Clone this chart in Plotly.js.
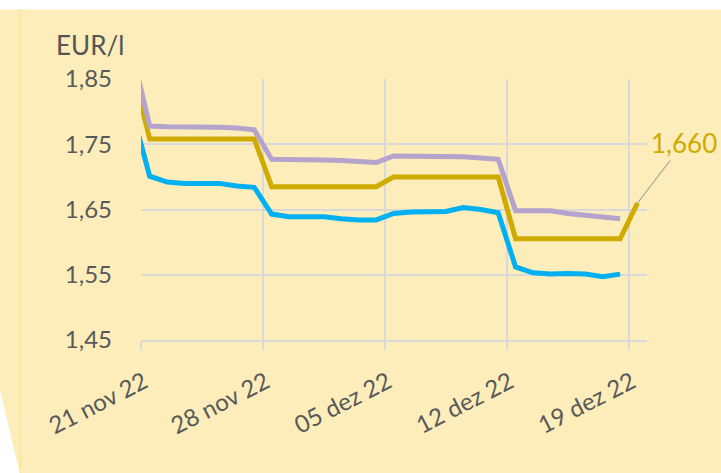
<!DOCTYPE html>
<html>
<head>
<meta charset="utf-8">
<script src="https://cdn.plot.ly/plotly-3.0.1.min.js"></script>
<style>
  html, body { margin: 0; padding: 0; background: #ffffff; }
  #wrap { position: relative; width: 721px; height: 473px; overflow: hidden; }
  #bg { position: absolute; left: 0; top: 0; }
  #chart { position: absolute; left: 0; top: 0; width: 721px; height: 473px; }
</style>
</head>
<body>
<div id="wrap">
  <svg id="bg" width="721" height="473">
    <polygon points="0,9.5 721,9.5 721,473 19.5,473 0,390" fill="#FCEDBA"/>
    <line x1="20.5" y1="9.5" x2="20.5" y2="473" stroke="#F9E29E" stroke-width="1"/>
  </svg>
  <div id="chart"></div>
</div>
<script>
// Dates (daily observations, noon)
const dates = [
  '2022-11-20 12:00','2022-11-21 12:00','2022-11-22 12:00','2022-11-23 12:00','2022-11-24 12:00',
  '2022-11-25 12:00','2022-11-26 12:00','2022-11-27 12:00','2022-11-28 12:00','2022-11-29 12:00',
  '2022-11-30 12:00','2022-12-01 12:00','2022-12-02 12:00','2022-12-03 12:00','2022-12-04 12:00',
  '2022-12-05 12:00','2022-12-06 12:00','2022-12-07 12:00','2022-12-08 12:00','2022-12-09 12:00',
  '2022-12-10 12:00','2022-12-11 12:00','2022-12-12 12:00','2022-12-13 12:00','2022-12-14 12:00',
  '2022-12-15 12:00','2022-12-16 12:00','2022-12-17 12:00','2022-12-18 12:00','2022-12-19 12:00'
];

// EUR/l series
const purpleSeries = [
  1.891,
  1.778, 1.777, 1.777, 1.776, 1.776, 1.775, 1.772,
  1.727, 1.727, 1.727, 1.726, 1.725, 1.724, 1.722,
  1.732, 1.732, 1.731, 1.731, 1.731, 1.729, 1.727,
  1.648, 1.648, 1.648, 1.644, 1.641, 1.638, 1.636,
  null
];
const goldSeries = [
  1.866,
  1.758, 1.758, 1.758, 1.758, 1.758, 1.758, 1.758,
  1.685, 1.685, 1.685, 1.685, 1.685, 1.685, 1.685,
  1.700, 1.700, 1.700, 1.700, 1.700, 1.700, 1.700,
  1.605, 1.605, 1.605, 1.605, 1.605, 1.605, 1.605,
  1.660
];
const blueSeries = [
  1.800,
  1.701, 1.692, 1.690, 1.690, 1.690, 1.686, 1.684,
  1.643, 1.639, 1.639, 1.639, 1.636, 1.634, 1.634,
  1.644, 1.646, 1.646, 1.647, 1.653, 1.650, 1.645,
  1.562, 1.553, 1.551, 1.552, 1.551, 1.547, 1.551,
  null
];

// Axis ticks
const tickDates = ['2022-11-21', '2022-11-28', '2022-12-05', '2022-12-12', '2022-12-19'];
const tickLabels = ['21 nov 22', '28 nov 22', '05 dez 22', '12 dez 22', '19 dez 22'];
const yTicks = [1.45, 1.55, 1.65, 1.75, 1.85];

const unitLabel = 'EUR/l';

const gridColor = '#D9D9D9';
const textColor = '#595959';
const fontFamily = 'Lato, "Open Sans", sans-serif';

const lastIdx = goldSeries.length - 1;
const lastGold = goldSeries[lastIdx];

const traces = [
  { x: dates, y: blueSeries, type: 'scatter', mode: 'lines',
    line: { color: '#00B0F0', width: 5 }, connectgaps: false, hoverinfo: 'skip' },
  { x: dates, y: goldSeries, type: 'scatter', mode: 'lines',
    line: { color: '#CFAB00', width: 5 }, hoverinfo: 'skip' },
  { x: dates, y: purpleSeries, type: 'scatter', mode: 'lines',
    line: { color: '#B4A3CC', width: 5 }, hoverinfo: 'skip' }
];

const layout = {
  width: 721, height: 473,
  margin: { l: 140.5, r: 74, t: 79, b: 133, pad: 0 },
  paper_bgcolor: 'rgba(0,0,0,0)',
  plot_bgcolor: 'rgba(0,0,0,0)',
  separators: ',.',
  showlegend: false,
  font: { family: fontFamily, color: textColor, size: 24 },
  xaxis: {
    type: 'date',
    range: ['2022-11-21 00:00', '2022-12-20 01:00'],
    tickmode: 'array', tickvals: tickDates, ticktext: tickLabels,
    tickangle: -27,
    ticklabelstandoff: 9,
    ticklabelshift: 3,
    showgrid: true, gridcolor: gridColor, gridwidth: 2,
    ticks: 'outside', ticklen: 8, tickwidth: 2, tickcolor: gridColor,
    showline: true, linecolor: gridColor, linewidth: 2,
    zeroline: false,
    tickfont: { family: fontFamily, size: 24, color: textColor }
  },
  yaxis: {
    range: [1.45, 1.85],
    tickmode: 'array', tickvals: yTicks,
    tickformat: '.2f',
    showgrid: true, gridcolor: gridColor, gridwidth: 2,
    ticks: '', showline: false, zeroline: false,
    ticklabelstandoff: 28,
    tickfont: { family: fontFamily, size: 24, color: textColor }
  },
  annotations: [
    { xref: 'paper', yref: 'paper', x: -0.172, y: 1.13, xanchor: 'left', yanchor: 'middle',
      text: unitLabel, showarrow: false,
      font: { family: fontFamily, size: 26, color: '#555555' } },
    { x: dates[lastIdx], y: lastGold, xref: 'x', yref: 'y',
      text: lastGold.toFixed(3).replace('.', ','),
      showarrow: true, arrowhead: 0, arrowwidth: 1, arrowcolor: '#8C8C8C',
      ax: 46, ay: -60, standoff: 0,
      font: { family: fontFamily, size: 26, color: '#CFAB00' } }
  ]
};

Plotly.newPlot('chart', traces, layout, { staticPlot: true, displayModeBar: false });
</script>
</body>
</html>
